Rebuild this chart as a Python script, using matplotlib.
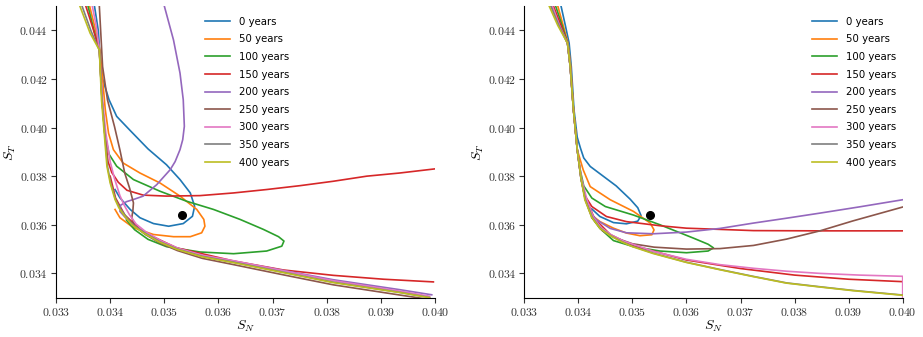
import matplotlib
matplotlib.use('Agg')
import matplotlib.pyplot as plt
from matplotlib.ticker import FuncFormatter, MultipleLocator

plt.rcParams['mathtext.fontset'] = 'cm'

labels = ['0 years', '50 years', '100 years', '150 years', '200 years',
          '250 years', '300 years', '350 years', '400 years']
colors = ['C0', 'C1', 'C2', 'C3', 'C4', 'C5', 'C6', 'C7', 'C8']

# observed point (same in both panels)
obs_x = [0.03533]
obs_y = [0.03642]

# ---------------- left panel ----------------
L0_x = [0.03371, 0.03378, 0.03381, 0.03386, 0.03398, 0.03412, 0.03436, 0.03470, 0.03504, 0.03529, 0.03548,
        0.03556, 0.03552, 0.03535, 0.03508, 0.03480, 0.03455, 0.03437, 0.03418, 0.03409]
L0_y = [0.04500, 0.04400, 0.04300, 0.04200, 0.04114, 0.04046, 0.03990, 0.03912, 0.03847, 0.03786, 0.03731,
        0.03676, 0.03635, 0.03605, 0.03594, 0.03605, 0.03629, 0.03663, 0.03711, 0.03745]
L50_x = [0.03362, 0.03372, 0.03381, 0.03386, 0.03391, 0.03397, 0.03406, 0.03424, 0.03455, 0.03492, 0.03529,
         0.03560, 0.03573, 0.03575, 0.03569, 0.03548, 0.03517, 0.03480, 0.03443, 0.03418, 0.03409]
L50_y = [0.04500, 0.04410, 0.04319, 0.04200, 0.04073, 0.03977, 0.03909, 0.03854, 0.03813, 0.03772, 0.03718,
         0.03663, 0.03622, 0.03594, 0.03567, 0.03551, 0.03551, 0.03560, 0.03588, 0.03629, 0.03663]
L100_x = [0.03359, 0.03370, 0.03380, 0.03385, 0.03390, 0.03398, 0.03412, 0.03443, 0.03492, 0.03541, 0.03591,
          0.03640, 0.03683, 0.03711, 0.03721, 0.03717, 0.03689, 0.03628, 0.03566, 0.03504, 0.03470, 0.03445,
          0.03430]
L100_y = [0.04500, 0.04400, 0.04319, 0.04114, 0.03977, 0.03890, 0.03841, 0.03786, 0.03738, 0.03697, 0.03663,
          0.03622, 0.03581, 0.03551, 0.03533, 0.03512, 0.03492, 0.03481, 0.03488, 0.03510, 0.03540, 0.03580,
          0.03620]
L150_x = [0.03355, 0.03368, 0.03380, 0.03385, 0.03390, 0.03396, 0.03403, 0.03415, 0.03431, 0.03461, 0.03504,
          0.03566, 0.03628, 0.03689, 0.03751, 0.03812, 0.03874, 0.03935, 0.04000]
L150_y = [0.04500, 0.04410, 0.04319, 0.04114, 0.03977, 0.03860, 0.03815, 0.03775, 0.03742, 0.03722, 0.03718,
          0.03720, 0.03731, 0.03745, 0.03761, 0.03779, 0.03800, 0.03813, 0.03830]
L150b_x = [0.03400, 0.03410, 0.03427, 0.03461, 0.03523, 0.03628, 0.03720, 0.03812, 0.03905, 0.03997]
L150b_y = [0.03800, 0.03710, 0.03640, 0.03570, 0.03505, 0.03451, 0.03414, 0.03392, 0.03376, 0.03365]
L200_x = [0.03500, 0.03517, 0.03529, 0.03535, 0.03537, 0.03534, 0.03529, 0.03520, 0.03511, 0.03486, 0.03461,
          0.03443, 0.03430, 0.03419, 0.03418, 0.03428, 0.03442, 0.03463, 0.03492, 0.03524, 0.03570, 0.03628,
          0.03720, 0.03812, 0.03935, 0.03994]
L200_y = [0.04500, 0.04360, 0.04224, 0.04114, 0.04005, 0.03950, 0.03909, 0.03860, 0.03827, 0.03765, 0.03718,
          0.03704, 0.03695, 0.03680, 0.03655, 0.03630, 0.03600, 0.03568, 0.03532, 0.03502, 0.03473, 0.03450,
          0.03412, 0.03374, 0.03333, 0.03312]
L250_x = [0.03380, 0.03386, 0.03395, 0.03408, 0.03418, 0.03427, 0.03436, 0.03443, 0.03442, 0.03440, 0.03445,
          0.03465, 0.03492, 0.03524, 0.03570, 0.03628, 0.03720, 0.03812, 0.03935, 0.03980]
L250_y = [0.04500, 0.04251, 0.04114, 0.04004, 0.03908, 0.03812, 0.03750, 0.03690, 0.03660, 0.03630, 0.03595,
          0.03560, 0.03525, 0.03494, 0.03462, 0.03436, 0.03394, 0.03353, 0.03311, 0.03296]
L300_x = [0.03367, 0.03374, 0.03380, 0.03386, 0.03392, 0.03400, 0.03408, 0.03418, 0.03426, 0.03436, 0.03448,
          0.03467, 0.03495, 0.03526, 0.03572, 0.03628, 0.03720, 0.03812, 0.03935, 0.03990]
L300_y = [0.04500, 0.04420, 0.04319, 0.04114, 0.03977, 0.03860, 0.03790, 0.03720, 0.03680, 0.03640, 0.03603,
          0.03569, 0.03533, 0.03503, 0.03474, 0.03452, 0.03411, 0.03370, 0.03327, 0.03306]
L350_x = [0.03348, 0.03365, 0.03380, 0.03385, 0.03390, 0.03395, 0.03401, 0.03410, 0.03418, 0.03429, 0.03442,
          0.03463, 0.03492, 0.03524, 0.03570, 0.03628, 0.03720, 0.03812, 0.03935, 0.03990]
L350_y = [0.04500, 0.04395, 0.04319, 0.04114, 0.03977, 0.03841, 0.03772, 0.03704, 0.03670, 0.03635, 0.03600,
          0.03567, 0.03530, 0.03500, 0.03470, 0.03446, 0.03405, 0.03364, 0.03322, 0.03301]
L400_x = [0.03344, 0.03363, 0.03380, 0.03384, 0.03389, 0.03394, 0.03400, 0.03409, 0.03416, 0.03427, 0.03440,
          0.03461, 0.03490, 0.03523, 0.03570, 0.03628, 0.03720, 0.03812, 0.03935, 0.03990]
L400_y = [0.04500, 0.04388, 0.04319, 0.04114, 0.03977, 0.03841, 0.03772, 0.03704, 0.03670, 0.03635, 0.03600,
          0.03567, 0.03530, 0.03499, 0.03468, 0.03444, 0.03403, 0.03362, 0.03321, 0.03300]

# ---------------- right panel ----------------
R0_x = [0.03368, 0.03376, 0.03383, 0.03387, 0.03392, 0.03398, 0.03404, 0.03410, 0.03422, 0.03440, 0.03470,
        0.03496, 0.03510, 0.03516, 0.03510, 0.03489, 0.03465, 0.03440, 0.03425]
R0_y = [0.04500, 0.04420, 0.04347, 0.04251, 0.04073, 0.03960, 0.03915, 0.03875, 0.03840, 0.03810, 0.03760,
        0.03705, 0.03670, 0.03638, 0.03615, 0.03604, 0.03609, 0.03634, 0.03665]
R50_x = [0.03362, 0.03372, 0.03381, 0.03386, 0.03391, 0.03398, 0.03409, 0.03422, 0.03459, 0.03502, 0.03533,
         0.03540, 0.03536, 0.03514, 0.03489, 0.03465, 0.03440, 0.03428]
R50_y = [0.04500, 0.04420, 0.04347, 0.04251, 0.04073, 0.03909, 0.03826, 0.03757, 0.03703, 0.03655, 0.03607,
         0.03579, 0.03559, 0.03555, 0.03566, 0.03586, 0.03613, 0.03634]
R100_x = [0.03358, 0.03370, 0.03380, 0.03385, 0.03391, 0.03398, 0.03403, 0.03410, 0.03425, 0.03450, 0.03502,
          0.03551, 0.03613, 0.03640, 0.03650, 0.03640, 0.03600, 0.03551, 0.03502, 0.03465, 0.03440, 0.03425]
R100_y = [0.04500, 0.04420, 0.04347, 0.04251, 0.04073, 0.03909, 0.03830, 0.03760, 0.03710, 0.03675, 0.03640,
          0.03600, 0.03545, 0.03520, 0.03505, 0.03492, 0.03485, 0.03492, 0.03510, 0.03535, 0.03585, 0.03630]
R150_x = [0.03354, 0.03368, 0.03380, 0.03385, 0.03391, 0.03398, 0.03405, 0.03412, 0.03425, 0.03452, 0.03489,
          0.03551, 0.03600, 0.03724, 0.03850, 0.04000]
R150_y = [0.04500, 0.04420, 0.04347, 0.04251, 0.04073, 0.03909, 0.03790, 0.03720, 0.03675, 0.03634, 0.03613,
          0.03596, 0.03586, 0.03576, 0.03575, 0.03575]
R150b_x = [0.03412, 0.03430, 0.03459, 0.03500, 0.03600, 0.03700, 0.03800, 0.03900, 0.04000]
R150b_y = [0.03720, 0.03625, 0.03560, 0.03515, 0.03455, 0.03420, 0.03393, 0.03376, 0.03366]
R200_x = [0.03350, 0.03365, 0.03380, 0.03385, 0.03391, 0.03398, 0.03405, 0.03413, 0.03422, 0.03434, 0.03459,
          0.03489, 0.03539, 0.03600, 0.03662, 0.03724, 0.03785, 0.03847, 0.03921, 0.04000]
R200_y = [0.04500, 0.04420, 0.04347, 0.04251, 0.04073, 0.03909, 0.03790, 0.03703, 0.03650, 0.03620, 0.03585,
          0.03567, 0.03563, 0.03570, 0.03585, 0.03607, 0.03627, 0.03648, 0.03674, 0.03703]
R250_x = [0.03351, 0.03365, 0.03380, 0.03385, 0.03391, 0.03398, 0.03405, 0.03413, 0.03425, 0.03445, 0.03470,
          0.03500, 0.03540, 0.03600, 0.03662, 0.03724, 0.03785, 0.03847, 0.03908, 0.04000]
R250_y = [0.04500, 0.04420, 0.04347, 0.04251, 0.04073, 0.03909, 0.03790, 0.03703, 0.03630, 0.03575, 0.03545,
          0.03522, 0.03508, 0.03500, 0.03502, 0.03515, 0.03541, 0.03575, 0.03616, 0.03673]
R300_x = [0.03352, 0.03365, 0.03380, 0.03385, 0.03391, 0.03398, 0.03406, 0.03416, 0.03428, 0.03443, 0.03462,
          0.03485, 0.03540, 0.03600, 0.03662, 0.03724, 0.03785, 0.03847, 0.03920, 0.04000, 0.04000]
R300_y = [0.04500, 0.04420, 0.04347, 0.04251, 0.04073, 0.03909, 0.03790, 0.03703, 0.03630, 0.03587, 0.03557,
          0.03532, 0.03490, 0.03458, 0.03436, 0.03421, 0.03409, 0.03400, 0.03393, 0.03388, 0.03300]
R350_x = [0.03349, 0.03364, 0.03380, 0.03385, 0.03391, 0.03398, 0.03405, 0.03413, 0.03426, 0.03441, 0.03460,
          0.03481, 0.03501, 0.03539, 0.03600, 0.03662, 0.03723, 0.03785, 0.03847, 0.03908, 0.04000]
R350_y = [0.04500, 0.04420, 0.04347, 0.04251, 0.04073, 0.03909, 0.03790, 0.03703, 0.03630, 0.03585, 0.03555,
          0.03530, 0.03511, 0.03483, 0.03446, 0.03416, 0.03388, 0.03361, 0.03345, 0.03330, 0.03311]
R400_x = [0.03346, 0.03362, 0.03380, 0.03385, 0.03391, 0.03398, 0.03405, 0.03412, 0.03425, 0.03440, 0.03459,
          0.03480, 0.03500, 0.03538, 0.03600, 0.03662, 0.03723, 0.03785, 0.03847, 0.03908, 0.04000]
R400_y = [0.04500, 0.04420, 0.04347, 0.04251, 0.04073, 0.03909, 0.03790, 0.03703, 0.03630, 0.03585, 0.03555,
          0.03530, 0.03510, 0.03482, 0.03445, 0.03415, 0.03387, 0.03360, 0.03344, 0.03329, 0.03310]

left_curves = [(L0_x, L0_y), (L50_x, L50_y), (L100_x, L100_y), (L150_x, L150_y), (L200_x, L200_y),
               (L250_x, L250_y), (L300_x, L300_y), (L350_x, L350_y), (L400_x, L400_y)]
right_curves = [(R0_x, R0_y), (R50_x, R50_y), (R100_x, R100_y), (R150_x, R150_y), (R200_x, R200_y),
                (R250_x, R250_y), (R300_x, R300_y), (R350_x, R350_y), (R400_x, R400_y)]
left_extra = [(L150b_x, L150b_y)]
right_extra = [(R150b_x, R150b_y)]


def tick_fmt(v, pos):
    return '${:.3f}$'.format(v)


def draw_panel(ax, curves, extra, leg_anchor):
    for i, (xs, ys) in enumerate(curves):
        ax.plot(xs, ys, color=colors[i], lw=1.2, label=labels[i])
        if i == 3:
            for xb, yb in extra:
                ax.plot(xb, yb, color=colors[i], lw=1.2)
    ax.plot(obs_x, obs_y, 'ko', ms=5.5, zorder=10)
    ax.set_xlim(0.033, 0.040)
    ax.set_ylim(0.033, 0.045)
    ax.xaxis.set_major_locator(MultipleLocator(0.001))
    ax.set_yticks([0.034, 0.036, 0.038, 0.040, 0.042, 0.044])
    ax.xaxis.set_major_formatter(FuncFormatter(tick_fmt))
    ax.yaxis.set_major_formatter(FuncFormatter(tick_fmt))
    ax.tick_params(labelsize=8.5, length=3.5, colors='#333333')
    ax.tick_params(axis='x', pad=2.5)
    ax.tick_params(axis='y', pad=2.2)
    ax.spines['top'].set_visible(False)
    ax.spines['right'].set_visible(False)
    ax.set_xlabel('$S_N$', fontsize=10, labelpad=0)
    ax.set_ylabel('$S_T$', fontsize=10, labelpad=1)
    ax.legend(loc='upper left', bbox_to_anchor=leg_anchor, frameon=False, fontsize=7.3,
              handlelength=2.45, labelspacing=0.75, borderaxespad=0, handletextpad=0.9)


fig = plt.figure(figsize=(9.23, 3.37), dpi=100)
ax1 = fig.add_axes([0.0607, 0.1166, 0.4106, 0.8656])
ax2 = fig.add_axes([0.5680, 0.1166, 0.4100, 0.8656])
draw_panel(ax1, left_curves, left_extra, (0.383, 0.977))
draw_panel(ax2, right_curves, right_extra, (0.7495, 0.977))

fig.savefig('out.png', dpi=100)
